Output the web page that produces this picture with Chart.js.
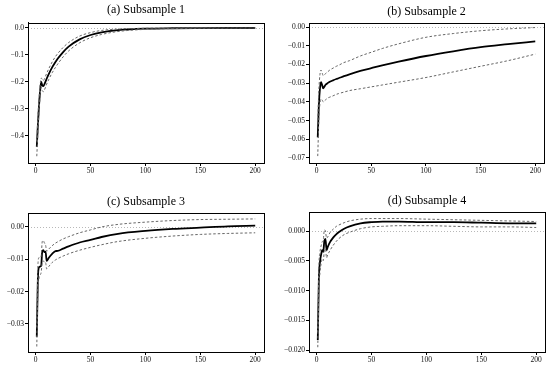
<!DOCTYPE html>
<html>
<head>
<meta charset="utf-8">
<script src="https://cdn.jsdelivr.net/npm/chart.js@4.4.1/dist/chart.umd.min.js"></script>
<style>
  body { margin:0; background:#fff; width:550px; height:376px; position:relative; overflow:hidden; }
  canvas { position:absolute; }
</style>
</head>
<body>
<canvas id="panel-a" width="275" height="188" style="left:0;top:0"></canvas>
<canvas id="panel-b" width="275" height="188" style="left:275px;top:0"></canvas>
<canvas id="panel-c" width="275" height="188" style="left:0;top:188px"></canvas>
<canvas id="panel-d" width="275" height="188" style="left:275px;top:188px"></canvas>
<script>
/* ── Horizons (shared x grid) ─────────────────────────────── */
const HORIZONS = [1,2,3,4,5,6,7,8,9,10,12,15,18,20,25,30,40,50,60,75,100,125,150,175,200];
const X_TICKS  = [0, 50, 100, 150, 200];
const X_LABELS = ['0', '50', '100', '150', '200'];

/* ── (a) Subsample 1 ──────────────────────────────────────── */
const TITLE_A = '(a) Subsample 1';
const IRF_A   = [-0.44,-0.36,-0.29,-0.235,-0.2,-0.212,-0.215,-0.208,-0.198,-0.188,-0.17,-0.146,-0.126,-0.114,-0.089,-0.069,-0.042,-0.026,-0.016,-0.008,-0.0025,-0.001,-0.0004,-0.0001,0];
const UP_A    = [-0.42,-0.33,-0.265,-0.215,-0.185,-0.19,-0.195,-0.188,-0.178,-0.168,-0.15,-0.126,-0.106,-0.095,-0.072,-0.054,-0.03,-0.017,-0.009,-0.004,-0.001,-0.0003,0,0,0];
const LO_A    = [-0.475,-0.39,-0.315,-0.255,-0.22,-0.232,-0.236,-0.229,-0.219,-0.208,-0.19,-0.166,-0.146,-0.134,-0.107,-0.085,-0.055,-0.036,-0.024,-0.013,-0.005,-0.002,-0.001,-0.0005,-0.0002];
const Y_TICKS_A  = [0, -0.1, -0.2, -0.3, -0.4];
const Y_LABELS_A = ['0.0', '\u22120.1', '\u22120.2', '\u22120.3', '\u22120.4'];

/* ── (b) Subsample 2 ──────────────────────────────────────── */
const TITLE_B = '(b) Subsample 2';
const IRF_B   = [-0.059,-0.042,-0.033,-0.0295,-0.031,-0.0328,-0.032,-0.031,-0.0305,-0.03,-0.0293,-0.0285,-0.0278,-0.0274,-0.0263,-0.0253,-0.0235,-0.022,-0.0205,-0.0185,-0.0155,-0.013,-0.0108,-0.0092,-0.0077];
const UP_B    = [-0.05,-0.034,-0.0255,-0.023,-0.0245,-0.026,-0.0255,-0.025,-0.0245,-0.024,-0.023,-0.022,-0.021,-0.0205,-0.019,-0.018,-0.0155,-0.0135,-0.0115,-0.009,-0.0055,-0.0035,-0.002,-0.001,-0.0003];
const LO_B    = [-0.069,-0.05,-0.041,-0.0385,-0.039,-0.04,-0.0395,-0.039,-0.0385,-0.038,-0.0375,-0.0368,-0.036,-0.0356,-0.0348,-0.034,-0.033,-0.032,-0.031,-0.0295,-0.027,-0.024,-0.021,-0.018,-0.0145];
const Y_TICKS_B  = [0, -0.01, -0.02, -0.03, -0.04, -0.05, -0.06, -0.07];
const Y_LABELS_B = ['0.00', '\u22120.01', '\u22120.02', '\u22120.03', '\u22120.04', '\u22120.05', '\u22120.06', '\u22120.07'];

/* ── (c) Subsample 3 ──────────────────────────────────────── */
const TITLE_C = '(c) Subsample 3';
const IRF_C   = [-0.034,-0.016,-0.0125,-0.0123,-0.012,-0.0075,-0.0072,-0.0078,-0.0076,-0.0105,-0.0095,-0.0083,-0.0075,-0.0074,-0.0067,-0.006,-0.0048,-0.004,-0.0031,-0.0021,-0.0012,-0.0006,-0.0002,0.0002,0.0004];
const UP_C    = [-0.031,-0.012,-0.0095,-0.0095,-0.009,-0.0045,-0.0042,-0.005,-0.0055,-0.0075,-0.0068,-0.0058,-0.005,-0.0046,-0.0037,-0.003,-0.0018,-0.0009,0,0.0008,0.0015,0.002,0.0023,0.0024,0.0025];
const LO_C    = [-0.037,-0.02,-0.016,-0.015,-0.014,-0.011,-0.0105,-0.011,-0.011,-0.013,-0.0122,-0.011,-0.0102,-0.0098,-0.009,-0.0083,-0.0072,-0.0063,-0.0055,-0.0045,-0.0035,-0.0028,-0.0023,-0.002,-0.0018];
const Y_TICKS_C  = [0, -0.01, -0.02, -0.03];
const Y_LABELS_C = ['0.00', '\u22120.01', '\u22120.02', '\u22120.03'];

/* ── (d) Subsample 4 ──────────────────────────────────────── */
const TITLE_D = '(d) Subsample 4';
const IRF_D   = [-0.0183,-0.008,-0.0052,-0.004,-0.0032,-0.0035,-0.0016,-0.0013,-0.0032,-0.0027,-0.0019,-0.0011,-0.0005,-0.0002,0.0004,0.0008,0.0013,0.0015,0.0016,0.0016,0.0015,0.0015,0.0014,0.0013,0.0013];
const UP_D    = [-0.017,-0.006,-0.0035,-0.0025,-0.0018,-0.0015,0.0002,0,-0.0012,-0.001,-0.0003,0.0003,0.0008,0.001,0.0014,0.0017,0.002,0.0021,0.0021,0.0021,0.002,0.0019,0.0018,0.0017,0.0016];
const LO_D    = [-0.0195,-0.01,-0.007,-0.0055,-0.0047,-0.005,-0.0033,-0.003,-0.0045,-0.004,-0.0033,-0.0024,-0.0017,-0.0013,-0.0006,-0.0002,0.0004,0.0007,0.0008,0.0009,0.0009,0.0008,0.0007,0.0007,0.0006];
const Y_TICKS_D  = [0, -0.005, -0.01, -0.015, -0.02];
const Y_LABELS_D = ['0.000', '\u22120.005', '\u22120.010', '\u22120.015', '\u22120.020'];

/* ── Style commun ─────────────────────────────────────────── */
const SERIF = 'Liberation Serif';
const W = 275, H = 188;

/* cadre complet + ligne zéro pointillée (comme box()/abline en R) */
const cadrePlugin = {
  id: 'cadre',
  beforeDatasetsDraw(chart) {
    const { ctx, chartArea: a, scales: { y } } = chart;
    const py = Math.round(y.getPixelForValue(0)) + 0.5;
    ctx.save();
    ctx.strokeStyle = '#b8b8b8';
    ctx.lineWidth = 1;
    ctx.setLineDash([1, 2]);
    ctx.beginPath(); ctx.moveTo(a.left, py); ctx.lineTo(a.right, py); ctx.stroke();
    ctx.restore();
  },
  afterDraw(chart) {
    const { ctx, chartArea: a } = chart;
    ctx.save();
    ctx.strokeStyle = '#000';
    ctx.lineWidth = 1;
    ctx.strokeRect(Math.round(a.left) + 0.5, Math.round(a.top) + 0.5,
                   Math.round(a.right - a.left), Math.round(a.bottom - a.top));
    ctx.restore();
  },
};

function points(ys) {
  return HORIZONS.map((h, i) => ({ x: h, y: ys[i] }));
}

function axe(ticks, labels, extra) {
  return Object.assign({
    type: 'linear',
    afterBuildTicks: s => { s.ticks = ticks.map(v => ({ value: v })); },
    grid: { display: true, drawOnChartArea: false, drawTicks: true, tickLength: 3, tickColor: '#000', color: '#000' },
    border: { display: true, color: '#000' },
    ticks: {
      color: '#111', padding: 1, maxRotation: 0, autoSkip: false,
      font: { family: SERIF, size: 7.5 },
      callback: v => labels[ticks.indexOf(v)],
    },
  }, extra);
}

function creerPanneau(id, titre, irf, up, lo, yMin, yMax, yTicks, yLabels, box) {
  const band = {
    borderColor: '#666', borderWidth: 1, borderDash: [2.5, 2],
    pointRadius: 0, fill: false, cubicInterpolationMode: 'monotone',
  };
  return new Chart(document.getElementById(id), {
    type: 'line',
    data: {
      datasets: [
        Object.assign({ data: points(up) }, band),
        Object.assign({ data: points(lo) }, band),
        { data: points(irf), borderColor: '#000', borderWidth: 1.8, pointRadius: 0,
          fill: false, cubicInterpolationMode: 'monotone' },
      ],
    },
    options: {
      responsive: false,
      animation: false,
      devicePixelRatio: 1,
      events: [],
      layout: { padding: { left: 0, top: 0, right: W - box.right, bottom: 0 } },
      plugins: {
        legend: { display: false },
        tooltip: { enabled: false },
        title: {
          display: true, text: titre, fullSize: false, color: '#000',
          font: { family: SERIF, size: 12, weight: 'normal', lineHeight: 1.2 },
          padding: { top: box.tTop, bottom: box.top - box.tTop - 14.4 },
        },
      },
      scales: {
        x: axe(X_TICKS, X_LABELS, { min: -7, max: 208,
          afterFit: s => { s.height = H - box.bottom; } }),
        y: axe(yTicks, yLabels, { min: yMin, max: yMax,
          afterFit: s => { s.width = box.left; } }),
      },
    },
    plugins: [cadrePlugin],
  });
}

creerPanneau('panel-a', TITLE_A, IRF_A, UP_A, LO_A, -0.5, 0.0185, Y_TICKS_A, Y_LABELS_A,
  { left: 28, right: 264, top: 23, bottom: 163, tTop: 2.3 });
creerPanneau('panel-b', TITLE_B, IRF_B, UP_B, LO_B, -0.0727, 0.00214, Y_TICKS_B, Y_LABELS_B,
  { left: 34, right: 269, top: 23, bottom: 163, tTop: 5 });
creerPanneau('panel-c', TITLE_C, IRF_C, UP_C, LO_C, -0.0387, 0.00433, Y_TICKS_C, Y_LABELS_C,
  { left: 28, right: 264, top: 25, bottom: 164, tTop: 7 });
creerPanneau('panel-d', TITLE_D, IRF_D, UP_D, LO_D, -0.0203, 0.0032, Y_TICKS_D, Y_LABELS_D,
  { left: 34, right: 270, top: 24, bottom: 164, tTop: 6 });
</script>
</body>
</html>
